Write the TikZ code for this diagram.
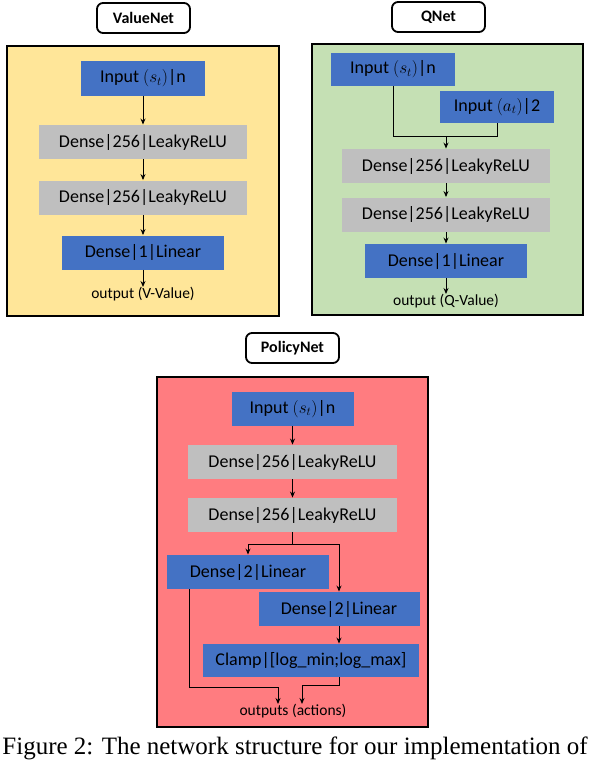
\documentclass[tikz,border=0pt]{standalone}
\usepackage{amsmath}
\usepackage{fontspec}
\setmainfont{Carlito}
\newfontfamily\capfont{Liberation Serif}
\usetikzlibrary{arrows.meta,shapes,calc}
\definecolor{netblue}{HTML}{4472C4}
\definecolor{netgray}{HTML}{BFBFBF}
\definecolor{valuebg}{HTML}{FFE699}
\definecolor{qbg}{HTML}{C5E0B4}
\definecolor{policybg}{HTML}{FF7C80}

\begin{document}
\begin{tikzpicture}[x=1pt,y=-1pt,line width=0.9pt,>={Stealth[length=6pt,width=5pt]}]
  \tikzstyle{every node}=[inner sep=0pt, font=\fontsize{18}{20}\selectfont]
  \tikzstyle{bluelayer}=[fill=netblue, minimum height=34pt]
  \tikzstyle{graylayer}=[fill=netgray, minimum width=208pt, minimum height=34pt]
  \tikzstyle{netname}=[draw, rounded corners=6pt, line width=1.8pt, fill=white,
    minimum width=93pt, minimum height=30pt, font=\fontsize{16}{18}\selectfont\bfseries]
  \tikzstyle{netbox}=[draw, line width=2.4pt]
  \tikzstyle{outtext}=[font=\fontsize{15.5}{18}\selectfont]
  \useasboundingbox (0,0) rectangle (592,760);

  % ValueNet
  \node[netname] (vtitle) at (143.5,18) {ValueNet};
  \draw[netbox, fill=valuebg] (7,46) rectangle (279,316);
  \node[bluelayer, minimum width=124pt] (vin) at (143,78.5) {Input $(s_t)$|n};
  \node[graylayer] (vd1) at (143,142) {Dense|256|LeakyReLU};
  \node[graylayer] (vd2) at (143,197.5) {Dense|256|LeakyReLU};
  \node[bluelayer, minimum width=162pt] (vd3) at (143,252.5) {Dense|1|Linear};
  \node[outtext, anchor=north] (vout) at (143,287) {output (V-Value)};
  \path[->] (vin) edge (vd1)
            (vd1) edge (vd2)
            (vd2) edge (vd3)
            (vd3) edge (vout);

  % QNet
  \node[netname] (qtitle) at (438.5,17) {QNet};
  \draw[netbox, fill=qbg] (312,44) rectangle (583,315);
  \node[bluelayer, minimum width=124pt, minimum height=33pt] (qs) at (393,69.5) {Input $(s_t)$|n};
  \node[bluelayer, minimum width=114pt, minimum height=32pt] (qa) at (497,107) {Input $(a_t)$|2};
  \node[graylayer] (qd1) at (446,166) {Dense|256|LeakyReLU};
  \node[graylayer] (qd2) at (446,214.5) {Dense|256|LeakyReLU};
  \node[bluelayer, minimum width=162pt] (qd3) at (446,261) {Dense|1|Linear};
  \node[outtext, anchor=north] (qout) at (446,294) {output (Q-Value)};
  \coordinate (qm) at (446,136);
  \draw (qs.south) |- (qm);
  \draw (qa.south) |- (qm);
  \path[->] (qm) edge (qd1)
            (qd1) edge (qd2)
            (qd2) edge (qd3)
            (qd3) edge (qout);

  % PolicyNet
  \node[netname] (ptitle) at (292.5,348) {PolicyNet};
  \draw[netbox, fill=policybg] (157,377) rectangle (428,727);
  \node[bluelayer, minimum width=122pt] (pin) at (292.5,409) {Input $(s_t)$|n};
  \node[graylayer, minimum width=209pt] (pd1) at (292.5,462) {Dense|256|LeakyReLU};
  \node[graylayer, minimum width=209pt] (pd2) at (292.5,515) {Dense|256|LeakyReLU};
  \node[bluelayer, minimum width=162pt] (pl) at (248,572) {Dense|2|Linear};
  \node[bluelayer, minimum width=161pt] (pr) at (339,609) {Dense|2|Linear};
  \node[bluelayer, minimum width=216pt, minimum height=33pt] (pc) at (311,660.5) {Clamp|[log\_min;log\_max]};
  \node[outtext, anchor=north] (pout) at (293,704) {outputs (actions)};
  \coordinate (pm) at (292.5,544);
  \coordinate (pj) at (189,687);
  \coordinate (pk) at (339,685);
  \path[->] (pin) edge (pd1)
            (pd1) edge (pd2);
  \draw (pd2.south) -- (pm);
  \draw[->] (pm) -| (pl.north);
  \draw[->] (pm) -| (pr.north);
  \draw[->] (pr.south) -- (pr.south |- pc.north);
  \draw[->] (pj |- pl.south) -- (pj) -| ([xshift=-15pt]pout.north);
  \draw[->] (pk |- pc.south) -- (pk) -| ([xshift=9pt]pout.north);

  % caption
  \node[anchor=base west, font=\capfont\fontsize{25}{28}\selectfont] (caption) at (2,754.5)
    {Figure 2: The network structure for our implementation of};
\end{tikzpicture}
\end{document}
